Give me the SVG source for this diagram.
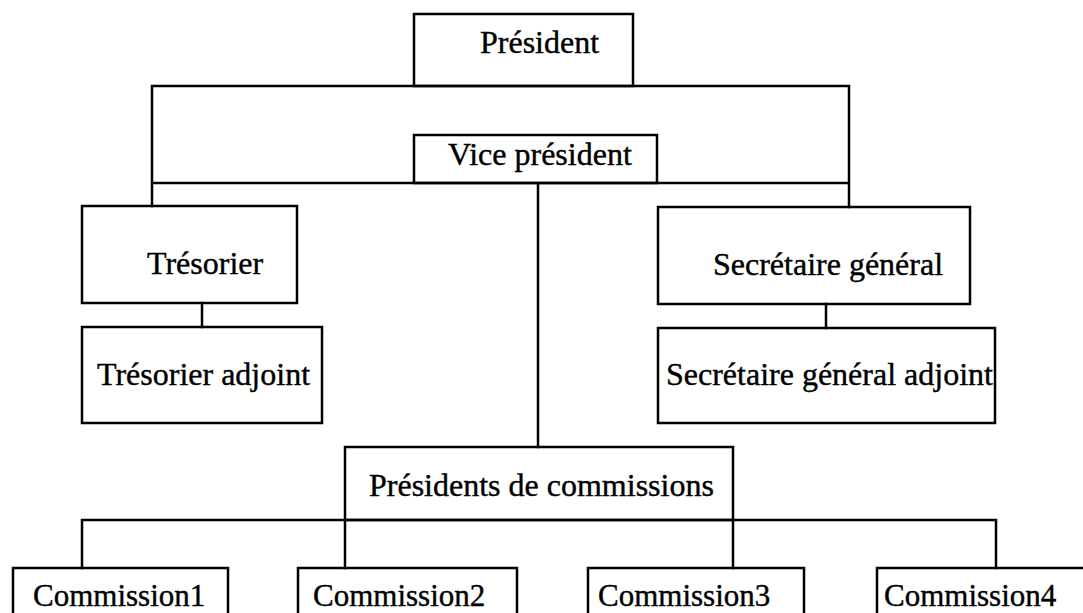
<svg xmlns="http://www.w3.org/2000/svg" width="1083" height="613" viewBox="0 0 1083 613">
<style>
.n{fill:none;stroke:#000;stroke-width:2.5}
.c{fill:none;stroke:#000;stroke-width:2.5;stroke-linecap:square}
text{font-family:"Liberation Serif","Times New Roman",serif;font-size:32px;fill:#000;stroke:#000;stroke-width:0.4}
.s{font-size:31px}
</style>
<rect width="1083" height="613" fill="#fff"/>
<g id="connectors">
<path class="c" d="M152,86 H849 M152,86 V206 M849,86 V207 M152,183 H849 M538,183 V447 M202,303 V327 M826,304 V328 M82,520 H996 M82,520 V568 M996,520 V568 M345,520 V568 M733,520 V568"/>
</g>
<g id="president"><rect class="n" x="414" y="14" width="219" height="72"/><text x="480" y="53">Président</text></g>
<g id="vice-president"><rect class="n" x="414" y="135" width="243" height="48"/><text x="448" y="165">Vice président</text></g>
<g id="tresorier"><rect class="n" x="82" y="206" width="215" height="97"/><text x="147" y="274">Trésorier</text></g>
<g id="tresorier-adjoint"><rect class="n" x="82" y="327" width="240" height="96"/><text x="97" y="385">Trésorier adjoint</text></g>
<g id="secretaire-general"><rect class="n" x="658" y="207" width="312" height="97"/><text x="713" y="275">Secrétaire général</text></g>
<g id="secretaire-general-adjoint"><rect class="n" x="658" y="328" width="337" height="95"/><text x="666" y="385">Secrétaire général adjoint</text></g>
<g id="presidents-commissions"><rect class="n" x="345" y="447" width="388" height="73"/><text x="369" y="496">Présidents de commissions</text></g>
<g id="commission1"><rect class="n" x="13" y="568" width="215" height="60"/><text class="s" x="33" y="606">Commission1</text></g>
<g id="commission2"><rect class="n" x="298" y="568" width="219" height="60"/><text class="s" x="313" y="606">Commission2</text></g>
<g id="commission3"><rect class="n" x="588" y="568" width="216" height="60"/><text class="s" x="598" y="606">Commission3</text></g>
<g id="commission4"><rect class="n" x="877" y="568" width="220" height="60"/><text class="s" x="884" y="606">Commission4</text></g>
</svg>
